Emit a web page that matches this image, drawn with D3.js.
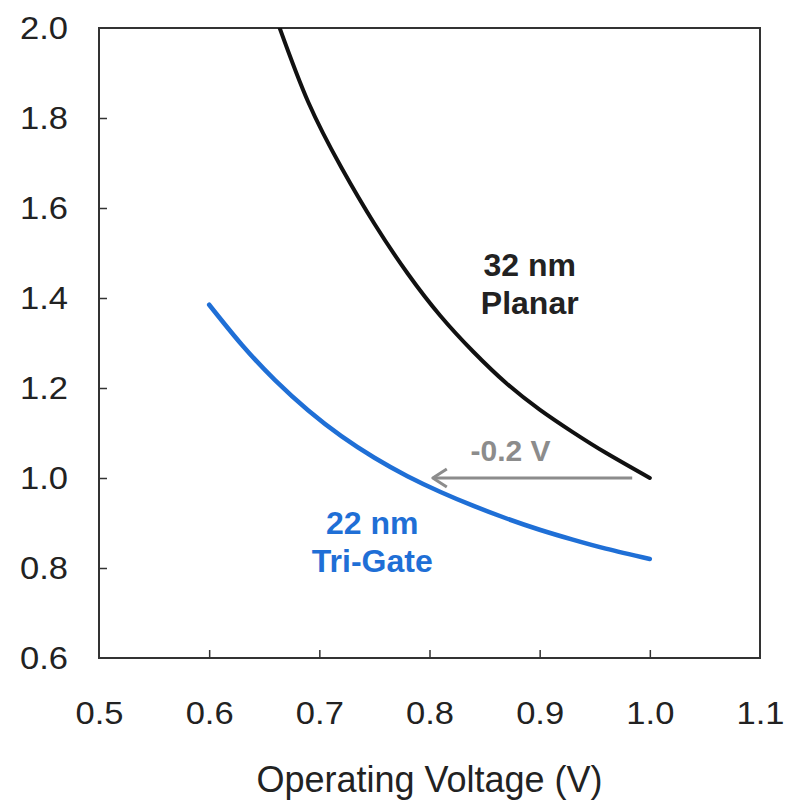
<!DOCTYPE html>
<html><head><meta charset="utf-8">
<script src="https://cdn.jsdelivr.net/npm/d3@7"></script>
<style>body{margin:0;background:#fff}svg{display:block}</style>
</head><body>
<svg id="c" width="788" height="800"></svg>
<script>
const xTicks = [0.5, 0.6, 0.7, 0.8, 0.9, 1.0, 1.1];
const yTicks = [0.6, 0.8, 1.0, 1.2, 1.4, 1.6, 1.8, 2.0];
const planarV = [0.664, 0.69, 0.72, 0.75, 0.78, 0.81, 0.84, 0.87, 0.90, 0.93, 0.96, 1.0];
const planarY = [2.0, 1.835, 1.69, 1.565, 1.455, 1.36, 1.28, 1.21, 1.152, 1.102, 1.056, 1.0];
const trigateV = [0.60, 0.63, 0.66, 0.69, 0.72, 0.75, 0.78, 0.81, 0.84, 0.87, 0.90, 0.93, 0.96, 1.0];
const trigateY = [1.385, 1.295, 1.217, 1.150, 1.093, 1.045, 1.004, 0.969, 0.938, 0.910, 0.885, 0.863, 0.843, 0.820];
const shift = {from: 0.984, to: 0.803, y: 1.0, label: "-0.2 V"};
const labels = [
  {lines: ["32 nm", "Planar"], x: 0.891, y: 1.45, color: "#222"},
  {lines: ["22 nm", "Tri-Gate"], x: 0.748, y: 0.876, color: "#1f6fd6"}
];
const xTitle = "Operating Voltage (V)";

const svg = d3.select("#c");
const m = {l: 99, r: 760, t: 28, b: 658};
const x = d3.scaleLinear().domain([0.5, 1.1]).range([m.l, m.r]);
const y = d3.scaleLinear().domain([0.6, 2.0]).range([m.b, m.t]);
const font = "Liberation Sans, Arial, sans-serif";

svg.append("defs").append("clipPath").attr("id", "clip")
  .append("rect").attr("x", m.l).attr("y", m.t).attr("width", m.r - m.l).attr("height", m.b - m.t);

const gx = svg.append("g").attr("transform", `translate(0,${m.b})`)
  .call(d3.axisBottom(x).tickValues(xTicks).tickFormat(d3.format(".1f")).tickSizeInner(-8).tickSizeOuter(0).tickPadding(43));
const gy = svg.append("g").attr("transform", `translate(${m.l},0)`)
  .call(d3.axisLeft(y).tickValues(yTicks).tickFormat(d3.format(".1f")).tickSizeInner(-8).tickSizeOuter(0).tickPadding(30));
[gx, gy].forEach(g => {
  g.select(".domain").remove();
  g.selectAll(".tick line").attr("stroke", "#333").attr("stroke-width", 1.5);
  g.selectAll(".tick text").attr("font-family", font).attr("font-size", 32).attr("fill", "#222");
});
gx.selectAll(".tick text").attr("transform", "scale(1.08,1)");
gy.selectAll(".tick text").attr("x", -31 / 1.08).attr("transform", "scale(1.08,1)");
gx.selectAll(".tick").filter(d => d === 0.5 || d === 1.1).select("line").remove();
gy.selectAll(".tick").filter(d => d === 0.6 || d === 2.0).select("line").remove();

svg.append("rect").attr("x", m.l).attr("y", m.t).attr("width", m.r - m.l).attr("height", m.b - m.t)
  .attr("fill", "none").attr("stroke", "#333").attr("stroke-width", 2);

const line = d3.line().x(d => x(d[0])).y(d => y(d[1])).curve(d3.curveNatural);
const plot = svg.append("g").attr("clip-path", "url(#clip)");
plot.append("path").datum(planarV.map((v, i) => [v, planarY[i]]))
  .attr("d", line).attr("fill", "none").attr("stroke", "#111").attr("stroke-width", 4).attr("stroke-linecap", "round");
plot.append("path").datum(trigateV.map((v, i) => [v, trigateY[i]]))
  .attr("d", line).attr("fill", "none").attr("stroke", "#1f6fd6").attr("stroke-width", 4.5).attr("stroke-linecap", "round");

const ay = y(shift.y);
const tip = x(shift.to);
svg.append("line").attr("x1", x(shift.from)).attr("x2", tip + 2).attr("y1", ay).attr("y2", ay)
  .attr("stroke", "#8c8c8c").attr("stroke-width", 3);
svg.append("path").attr("d", `M${tip + 14},${ay - 9} L${tip},${ay} L${tip + 14},${ay + 9}`)
  .attr("fill", "none").attr("stroke", "#8c8c8c").attr("stroke-width", 3).attr("stroke-linejoin", "round");
svg.append("text").attr("x", (x(shift.from) + tip) / 2 - 22).attr("y", ay - 17)
  .attr("text-anchor", "middle").attr("font-family", font).attr("font-weight", "bold").attr("font-size", 30)
  .attr("fill", "#8c8c8c").text(shift.label);

labels.forEach(l => {
  const t = svg.append("text").attr("text-anchor", "middle").attr("font-family", font).attr("font-weight", "bold")
    .attr("font-size", 32).attr("fill", l.color);
  l.lines.forEach((s, i) => t.append("tspan").attr("x", x(l.x)).attr("y", y(l.y) + i * 38).text(s));
});

svg.append("text").attr("x", (m.l + m.r) / 2).attr("y", 792).attr("text-anchor", "middle")
  .attr("font-family", font).attr("font-size", 36).attr("fill", "#222").text(xTitle);
</script>
</body></html>
